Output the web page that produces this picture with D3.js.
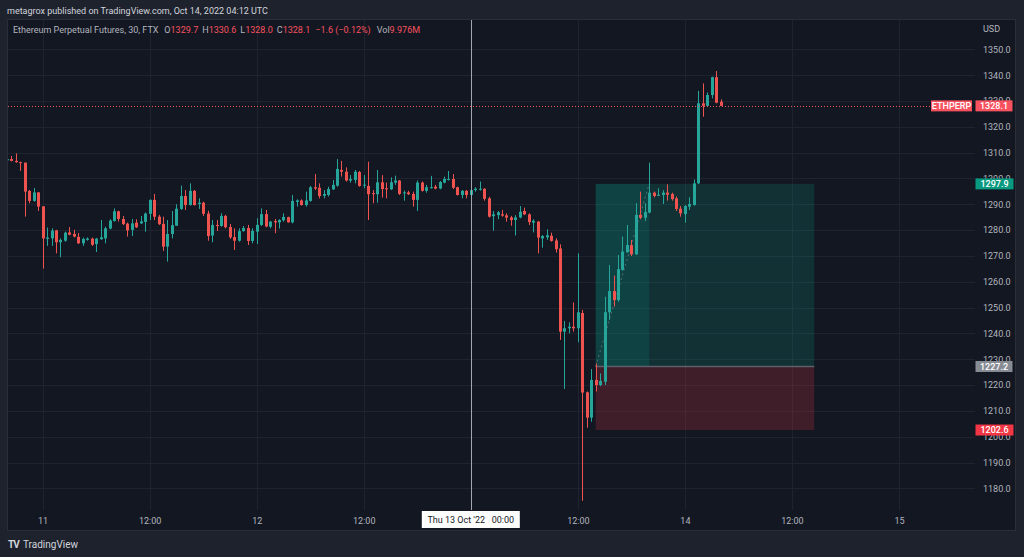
<!DOCTYPE html>
<html>
<head>
<meta charset="utf-8">
<script src="https://cdn.jsdelivr.net/npm/d3@7"></script>
<style>
  body { margin: 0; background: #1e222d; }
  svg { display: block; font-family: Roboto, "Liberation Sans", sans-serif; }
</style>
</head>
<body>
<div id="chart"></div>
<script>
// ETHPERP 30m bars, first bar Oct 10 20:00 UTC
var firstBar = Date.UTC(2022, 9, 10, 20, 0);
var barMs = 30 * 60 * 1000;

var opens = [1307.0,1307.5,1306.8,1306.3,1306.1,1295.2,1291.3,1294.6,1289.2,1276.6,
  1276.8,1279.9,1275.3,1275.9,1279.1,1278.5,1277.4,1274.9,1276.2,1276.7,
  1274.6,1276.5,1276.8,1280.6,1283.5,1287.3,1284.3,1282.5,1280.1,1282.9,
  1282.6,1283.2,1286.3,1291.7,1285.2,1282.4,1273.6,1278.5,1281.7,1288.2,
  1293.2,1289.7,1295.2,1290.1,1290.6,1286.4,1277.9,1282.0,1281.6,1285.5,
  1281.2,1277.3,1275.9,1279.6,1280.8,1275.8,1279.4,1282.0,1286.2,1281.3,
  1283.5,1283.0,1283.8,1285.0,1283.0,1290.9,1291.5,1289.7,1291.3,1296.6,
  1296.4,1293.3,1293.6,1295.8,1297.2,1303.3,1302.6,1299.2,1299.4,1302.5,
  1297.4,1297.1,1294.3,1293.9,1298.5,1296.2,1295.8,1298.4,1299.2,1294.4,
  1294.6,1294.0,1291.7,1298.4,1295.2,1296.5,1296.8,1296.1,1298.4,1299.6,
  1299.8,1296.6,1293.6,1295.2,1293.6,1295.5,1295.8,1296.0,1292.3,1285.4,
  1285.8,1286.1,1285.7,1284.9,1283.9,1284.9,1287.4,1286.1,1282.9,1283.3,
  1276.8,1277.2,1277.8,1276.0,1272.9,1240.7,1242.0,1242.6,1242.0,1247.9,
  1217.2,1207.4,1222.0,1220.0,1221.3,1248.2,1256.4,1252.9,1264.6,1271.4,
  1274.2,1270.6,1285.9,1284.8,1286.8,1294.5,1293.3,1293.6,1294.5,1294.0,
  1292.3,1288.3,1286.2,1289.1,1289.7,1298.1,1329.1,1328.1,1332.3,1339.2,
  1329.7];
var highs = [1307.6,1308.7,1309.7,1306.5,1306.2,1295.5,1296.3,1294.7,1289.3,1281.0,
  1280.7,1280.1,1276.8,1279.4,1281.2,1280.1,1278.9,1277.1,1277.2,1277.1,
  1277.0,1283.9,1281.3,1284.2,1288.4,1287.5,1285.5,1282.9,1284.3,1284.2,
  1285.5,1286.8,1291.9,1294.0,1285.9,1285.2,1283.9,1287.4,1290.0,1297.2,
  1295.5,1298.1,1295.5,1292.3,1291.0,1287.5,1283.9,1283.9,1286.5,1285.9,
  1282.4,1280.7,1280.7,1281.6,1282.0,1280.7,1284.6,1288.4,1287.8,1283.5,
  1284.3,1284.2,1286.5,1285.2,1293.6,1291.9,1291.9,1294.9,1297.1,1301.7,
  1298.1,1295.5,1296.8,1299.4,1307.5,1306.8,1304.3,1301.3,1303.3,1302.9,
  1301.3,1306.5,1295.5,1303.3,1301.3,1298.4,1300.4,1301.1,1299.4,1295.3,
  1295.2,1294.9,1299.2,1298.8,1297.5,1301.0,1297.5,1299.0,1300.7,1302.9,
  1301.7,1296.8,1295.5,1295.5,1296.2,1296.6,1298.8,1296.2,1292.9,1287.4,
  1287.4,1287.8,1286.5,1285.5,1285.8,1289.3,1288.7,1286.5,1284.2,1283.5,
  1278.1,1280.3,1279.0,1276.8,1274.5,1244.8,1244.3,1252.0,1271.0,1249.1,
  1217.5,1226.2,1228.4,1224.5,1254.2,1266.5,1262.4,1270.4,1277.5,1282.0,
  1276.2,1290.4,1294.9,1290.4,1306.1,1294.9,1296.2,1295.5,1297.7,1294.5,
  1293.0,1289.3,1289.7,1292.7,1299.6,1333.9,1336.8,1333.3,1339.4,1341.6,
  1330.6];
var lows = [1306.9,1306.6,1306.1,1302.9,1285.2,1290.4,1291.0,1287.4,1265.1,1273.9,
  1273.9,1271.0,1269.5,1275.5,1278.0,1277.2,1274.6,1273.9,1275.9,1273.9,
  1271.5,1276.2,1274.9,1280.3,1283.3,1283.3,1282.0,1277.5,1277.7,1280.8,
  1282.4,1279.4,1283.9,1283.9,1282.0,1271.9,1267.8,1276.8,1281.7,1287.8,
  1287.8,1289.5,1289.5,1288.2,1285.5,1275.9,1275.3,1279.7,1281.3,1280.7,
  1276.6,1272.3,1275.5,1279.4,1274.2,1274.9,1274.6,1281.6,1281.1,1280.7,
  1278.8,1280.6,1283.3,1282.9,1282.6,1289.1,1289.5,1289.1,1291.0,1295.5,
  1292.3,1292.3,1293.0,1295.5,1296.8,1300.7,1298.8,1298.4,1298.1,1296.8,
  1296.2,1283.9,1290.4,1290.6,1292.6,1292.3,1295.5,1297.5,1293.6,1291.4,
  1293.6,1289.1,1287.4,1294.9,1294.5,1296.1,1295.8,1295.8,1298.1,1299.2,
  1295.9,1293.4,1292.3,1292.3,1293.0,1294.9,1295.3,1291.4,1284.9,1279.8,
  1284.2,1285.2,1283.3,1281.7,1277.9,1284.6,1285.8,1282.0,1279.1,1271.0,
  1273.2,1276.2,1275.5,1271.3,1237.5,1218.5,1240.0,1240.7,1236.6,1175.2,
  1203.5,1205.8,1217.5,1219.6,1220.0,1245.2,1250.4,1252.3,1264.3,1271.3,
  1270.0,1270.4,1284.2,1283.5,1286.5,1292.7,1293.2,1290.1,1291.4,1291.4,
  1287.4,1285.2,1282.9,1287.8,1289.5,1297.9,1323.9,1327.8,1331.0,1329.1,
  1328.0];
var closes = [1307.5,1306.8,1306.3,1306.1,1294.9,1291.3,1294.6,1289.1,1276.8,1277.1,
  1279.8,1275.3,1276.2,1279.0,1278.2,1277.5,1274.9,1276.6,1276.7,1274.3,
  1276.7,1277.2,1280.7,1283.7,1287.3,1284.3,1282.3,1279.9,1282.6,1281.1,
  1283.4,1286.4,1291.7,1285.2,1282.3,1273.6,1278.5,1281.9,1288.3,1293.2,
  1289.7,1295.2,1289.7,1290.6,1286.3,1277.7,1282.0,1281.6,1285.5,1281.1,
  1277.2,1275.9,1279.6,1280.8,1275.8,1279.7,1282.0,1286.2,1281.4,1283.3,
  1283.0,1283.9,1285.1,1283.0,1291.3,1291.5,1289.7,1291.5,1296.6,1296.1,
  1293.2,1294.0,1295.9,1297.5,1303.7,1302.6,1299.2,1299.8,1302.6,1297.1,
  1297.6,1293.9,1294.0,1298.5,1295.9,1295.8,1298.5,1299.2,1294.0,1294.6,
  1293.9,1291.7,1298.4,1295.2,1296.6,1296.6,1296.1,1298.6,1299.8,1299.8,
  1296.4,1293.6,1295.2,1293.6,1295.5,1296.0,1296.0,1292.1,1285.2,1286.1,
  1286.9,1285.6,1284.8,1283.9,1284.9,1287.1,1286.1,1283.1,1283.6,1277.1,
  1277.7,1278.0,1275.8,1272.6,1240.7,1242.0,1242.6,1242.0,1248.2,1217.1,
  1207.4,1222.0,1220.0,1221.6,1248.2,1256.4,1252.9,1264.9,1271.7,1274.2,
  1270.6,1285.9,1284.8,1287.0,1294.5,1293.2,1293.7,1294.5,1293.7,1292.0,
  1288.2,1286.5,1289.3,1290.1,1298.1,1329.1,1328.1,1332.3,1339.2,1329.3,
  1328.1];

var priceTicks = d3.range(1180, 1351, 10);
var timeTicks = [
  Date.UTC(2022, 9, 11, 0), Date.UTC(2022, 9, 11, 12), Date.UTC(2022, 9, 12, 0),
  Date.UTC(2022, 9, 12, 12), Date.UTC(2022, 9, 13, 0), Date.UTC(2022, 9, 13, 12),
  Date.UTC(2022, 9, 14, 0), Date.UTC(2022, 9, 14, 12), Date.UTC(2022, 9, 15, 0)
];
// "13" sits under the crosshair time label, so it is not shown
var timeTickLabels = ["11", "12:00", "12", "12:00", "", "12:00", "14", "12:00", "15"];

var lastPrice = 1328.1;
// long position tool
var entryPrice = 1227.2, targetPrice = 1297.9, stopPrice = 1202.6;
var posStart = Date.UTC(2022, 9, 13, 14, 0),
    posHit = Date.UTC(2022, 9, 13, 20, 0),
    posEnd = Date.UTC(2022, 9, 14, 14, 30);
var crossTime = Date.UTC(2022, 9, 13, 0, 0);

var W = 1024, H = 557;
var plot = { left: 7, right: 975, top: 19, bottom: 510 };

var bars = closes.map(function(c, i) {
  return { t: new Date(firstBar + i * barMs), o: opens[i], h: highs[i], l: lows[i], c: c };
});

var x = d3.scaleUtc()
  .domain([new Date(Date.UTC(2022, 9, 11)), new Date(Date.UTC(2022, 9, 15))])
  .range([42.6, 899]);
var y = d3.scaleLinear().domain([1180, 1350]).range([488.4, 49.3]);

var up = "#26a69a", down = "#ef5350";

var svg = d3.select("#chart").append("svg")
  .attr("width", W).attr("height", H);

svg.append("rect").attr("width", W).attr("height", H).attr("fill", "#1e222d");

svg.append("text")
  .attr("x", 7).attr("y", 14)
  .attr("fill", "#d1d4dc").style("font-size", "9px")
  .text("metagrox published on TradingView.com, Oct 14, 2022 04:12 UTC");

// chart panel
svg.append("rect")
  .attr("x", 7.5).attr("y", 19.5).attr("width", 1008).attr("height", 511)
  .attr("fill", "#131722").attr("stroke", "#2a2e39");

svg.append("defs").append("clipPath").attr("id", "plotclip")
  .append("rect").attr("x", 8).attr("y", 20)
  .attr("width", plot.right - 8).attr("height", plot.bottom - 20);

// grid
var grid = svg.append("g").attr("stroke", "#1f2330").attr("shape-rendering", "crispEdges");
grid.selectAll(".hg").data(priceTicks).enter().append("line")
  .attr("x1", 8).attr("x2", plot.right)
  .attr("y1", function(d) { return Math.round(y(d)) + 0.5; })
  .attr("y2", function(d) { return Math.round(y(d)) + 0.5; });
grid.selectAll(".vg").data(timeTicks).enter().append("line")
  .attr("y1", 20).attr("y2", plot.bottom)
  .attr("x1", function(d) { return Math.round(x(d)) + 0.5; })
  .attr("x2", function(d) { return Math.round(x(d)) + 0.5; });

var main = svg.append("g").attr("clip-path", "url(#plotclip)");

// long position zones
main.append("rect")
  .attr("x", x(posStart)).attr("width", x(posEnd) - x(posStart))
  .attr("y", y(targetPrice)).attr("height", y(entryPrice) - y(targetPrice))
  .attr("fill", "rgba(8,153,129,0.2)");
main.append("rect")
  .attr("x", x(posStart)).attr("width", x(posHit) - x(posStart))
  .attr("y", y(targetPrice)).attr("height", y(entryPrice) - y(targetPrice))
  .attr("fill", "rgba(8,153,129,0.17)");
main.append("rect")
  .attr("x", x(posStart)).attr("width", x(posEnd) - x(posStart))
  .attr("y", y(entryPrice)).attr("height", y(stopPrice) - y(entryPrice))
  .attr("fill", "rgba(242,54,69,0.2)");
main.append("line")
  .attr("x1", x(posStart)).attr("x2", x(posEnd))
  .attr("y1", y(entryPrice)).attr("y2", y(entryPrice))
  .attr("stroke", "#5d606b").attr("stroke-width", 1.5);
main.append("line")
  .attr("x1", x(posStart)).attr("y1", y(entryPrice))
  .attr("x2", x(posHit)).attr("y2", y(targetPrice))
  .attr("stroke", "#787b86").attr("stroke-opacity", 0.7)
  .attr("stroke-dasharray", "2,3");

// candles
var candles = main.append("g").selectAll("g").data(bars).enter().append("g")
  .attr("fill", function(d) { return d.c >= d.o ? up : down; })
  .attr("stroke", function(d) { return d.c >= d.o ? up : down; });
candles.append("line")
  .attr("x1", function(d) { return Math.round(x(d.t)) + 0.5; })
  .attr("x2", function(d) { return Math.round(x(d.t)) + 0.5; })
  .attr("y1", function(d) { return y(d.h); })
  .attr("y2", function(d) { return y(d.l); });
candles.append("rect")
  .attr("stroke", "none")
  .attr("x", function(d) { return Math.round(x(d.t)) - 1; })
  .attr("width", 3)
  .attr("y", function(d) { return y(Math.max(d.o, d.c)); })
  .attr("height", function(d) { return Math.max(1, Math.abs(y(d.o) - y(d.c))); });

// last price dotted line
main.append("line")
  .attr("x1", 8).attr("x2", 931)
  .attr("y1", Math.round(y(lastPrice)) + 0.5).attr("y2", Math.round(y(lastPrice)) + 0.5)
  .attr("stroke", "#f7525f").attr("stroke-dasharray", "1,2");

// crosshair
svg.append("line")
  .attr("x1", Math.round(x(crossTime)) + 0.5).attr("x2", Math.round(x(crossTime)) + 0.5)
  .attr("y1", 20).attr("y2", plot.bottom)
  .attr("stroke", "#a3a6af");

// legend row
var legend = svg.append("text").attr("x", 13).attr("y", 33).style("font-size", "9px").attr("fill", "#b2b5be");
var legendParts = [
  ["Ethereum Perpetual Futures, 30, FTX", "#b2b5be", 0],
  ["O", "#b2b5be", 6], ["1329.7", "#f7525f", 0],
  ["H", "#b2b5be", 4], ["1330.6", "#f7525f", 0],
  ["L", "#b2b5be", 4], ["1328.0", "#f7525f", 0],
  ["C", "#b2b5be", 4], ["1328.1", "#f7525f", 0],
  ["\u22121.6 (\u22120.12%)", "#f7525f", 5],
  ["Vol", "#b2b5be", 6], ["9.976M", "#f7525f", 0]
];
legend.selectAll("tspan").data(legendParts).enter().append("tspan")
  .attr("fill", function(d) { return d[1]; })
  .attr("dx", function(d) { return d[2]; })
  .text(function(d) { return d[0]; });

// price axis
var yAxis = d3.axisRight(y).tickValues(priceTicks).tickFormat(d3.format(".1f")).tickSize(0).tickPadding(8);
var yg = svg.append("g").attr("transform", "translate(" + plot.right + ",0)").call(yAxis);
yg.select(".domain").remove();
yg.attr("font-family", null).attr("font-size", null);
yg.selectAll("text").attr("fill", "#b2b5be").style("font-size", "9px");

svg.append("text").attr("x", 983).attr("y", 32)
  .attr("fill", "#b2b5be").style("font-size", "9px").text("USD");

// time axis
var xAxis = d3.axisBottom(x).tickValues(timeTicks.map(function(d) { return new Date(d); }))
  .tickFormat(function(d, i) { return timeTickLabels[i]; })
  .tickSize(0).tickPadding(8);
var xg = svg.append("g").attr("transform", "translate(0," + plot.bottom + ")").call(xAxis);
xg.select(".domain").remove();
xg.attr("font-family", null).attr("font-size", null);
xg.selectAll("text").attr("fill", "#b2b5be").style("font-size", "9px");

// price labels
function priceTag(x0, w, v, fill, label) {
  var yy = y(v);
  svg.append("rect").attr("x", x0).attr("y", yy - 5.5).attr("width", w).attr("height", 11)
    .attr("fill", fill);
  svg.append("text").attr("x", x0 + w / 2).attr("y", yy).attr("dy", "0.35em")
    .attr("text-anchor", "middle").attr("fill", "#ffffff")
    .style("font-size", "9px").style("font-weight", "500").text(label);
}
priceTag(931, 41, lastPrice, "#f7525f", "ETHPERP");
priceTag(975.5, 37, lastPrice, "#f7525f", d3.format(".1f")(lastPrice));
priceTag(975.5, 38, targetPrice, "#089981", d3.format(".1f")(targetPrice));
priceTag(975.5, 37, entryPrice, "#878b94", d3.format(".1f")(entryPrice));
priceTag(975.5, 38, stopPrice, "#f23645", d3.format(".1f")(stopPrice));

// crosshair time label
var cx = x(crossTime);
svg.append("rect").attr("x", cx - 49).attr("y", 511).attr("width", 98).attr("height", 17)
  .attr("fill", "#ffffff");
svg.append("text").attr("x", cx).attr("y", 520).attr("dy", "0.35em")
  .attr("text-anchor", "middle").attr("fill", "#131722").style("font-size", "9px")
  .attr("xml:space", "preserve")
  .text("Thu 13 Oct '22   00:00");

// footer
svg.append("text").attr("x", 8).attr("y", 548)
  .attr("fill", "#d1d4dc").style("font-size", "10px").style("font-weight", "700")
  .attr("letter-spacing", "-1").text("TV");
svg.append("text").attr("x", 23).attr("y", 548)
  .attr("fill", "#d1d4dc").style("font-size", "10px").text("TradingView");
</script>
</body>
</html>
